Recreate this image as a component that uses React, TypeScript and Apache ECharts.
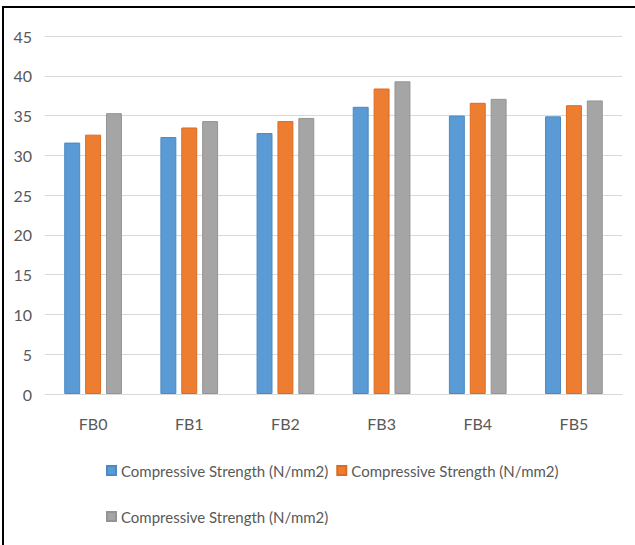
import React, { useEffect, useRef } from "react";
import * as echarts from "echarts";

// Compressive strength per mix (N/mm2), three test series
const categories = ["FB0", "FB1", "FB2", "FB3", "FB4", "FB5"];
const strengthSeries1 = [31.6, 32.3, 32.8, 36.1, 35.0, 34.9];
const strengthSeries2 = [32.6, 33.5, 34.3, 38.4, 36.6, 36.3];
const strengthSeries3 = [35.3, 34.3, 34.7, 39.3, 37.1, 36.9];
const seriesLabel = "Compressive Strength (N/mm2)";
const yMin = 0;
const yMax = 45;
const yStep = 5;

const FONT = "Lato, 'Liberation Sans', Arial, sans-serif";
const AXIS_FONT_SIZE = 16;
const LEGEND_FONT_SIZE = 15;
const TEXT_COLOR = "#595959";
const GRID_COLOR = "#D9D9D9";

const palette = [
  { fill: "#5B9BD5", edge: "#4A89C3" },
  { fill: "#ED7D31", edge: "#D96C22" },
  { fill: "#A5A5A5", edge: "#949494" },
];

export default function App() {
  const ref = useRef<HTMLDivElement>(null);

  useEffect(() => {
    document.body.style.margin = "0";
    if (!ref.current) return;
    const chart = echarts.init(ref.current, undefined, { renderer: "svg" });

    // Identical visible names; trailing spaces keep the legend entries distinct.
    const names = [0, 1, 2].map((i) => seriesLabel + " ".repeat(i));
    const datasets = [strengthSeries1, strengthSeries2, strengthSeries3];

    const legendBase = {
      left: 101,
      width: 520,
      icon: "rect",
      itemWidth: 9,
      itemHeight: 9,
      itemGap: 8,
      formatter: (n: string) => n.trimEnd(),
      textStyle: { color: TEXT_COLOR, fontSize: LEGEND_FONT_SIZE, fontFamily: FONT },
    };

    chart.setOption({
      animation: false,
      backgroundColor: "#ffffff",
      textStyle: { fontFamily: FONT },
      grid: { left: 45, right: 13, top: 36, bottom: 151, containLabel: false },
      xAxis: {
        type: "category",
        data: categories,
        axisLine: { lineStyle: { color: GRID_COLOR, width: 1 } },
        axisTick: { show: false },
        axisLabel: { color: TEXT_COLOR, fontSize: AXIS_FONT_SIZE, fontFamily: FONT, margin: 21 },
      },
      yAxis: {
        type: "value",
        min: yMin,
        max: yMax,
        interval: yStep,
        axisLine: { show: false },
        axisTick: { show: false },
        splitLine: { lineStyle: { color: GRID_COLOR, width: 1 } },
        axisLabel: { color: TEXT_COLOR, fontSize: AXIS_FONT_SIZE, fontFamily: FONT, margin: 13 },
      },
      legend: [
        { ...legendBase, data: [names[0], names[1]], top: 458 },
        { ...legendBase, data: [names[2]], top: 504 },
      ],
      series: datasets.map((d, i) => ({
        name: names[i],
        type: "bar",
        data: d,
        barGap: "31%",
        barCategoryGap: "40%",
        itemStyle: {
          color: palette[i].fill,
          borderColor: palette[i].edge,
          borderWidth: 1,
        },
      })),
      graphic: [
        {
          type: "line",
          shape: { x1: 3, y1: 7, x2: 3, y2: 545 },
          style: { stroke: "#000000", lineWidth: 2 },
        },
        {
          type: "line",
          shape: { x1: 2, y1: 7, x2: 635, y2: 7 },
          style: { stroke: "#000000", lineWidth: 2 },
        },
      ],
    });

    return () => chart.dispose();
  }, []);

  return <div ref={ref} style={{ width: 635, height: 545 }} />;
}
